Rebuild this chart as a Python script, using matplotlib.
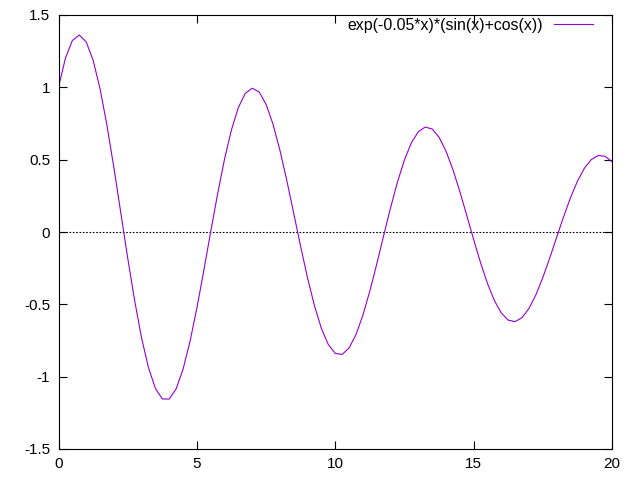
import matplotlib
matplotlib.use('Agg')
import matplotlib.pyplot as plt

# sampled curve, x step 0.25
x_values = [i * 0.25 for i in range(81)]
y_values = [
    1.0000, 1.2013, 1.3235, 1.3613, 1.3144, 1.1878, 0.9912, 0.7383, 0.4462, 0.1340,
    -0.1788, -0.4729, -0.7307, -0.9370, -1.0805, -1.1541, -1.1548, -1.0843, -0.9489, -0.7585,
    -0.5260, -0.2668, 0.0024, 0.2647, 0.5044, 0.7069, 0.8611, 0.9583, 0.9942, 0.9681,
    0.8829, 0.7456, 0.5657, 0.3554, 0.1285, -0.1008, -0.3182, -0.5106, -0.6669, -0.7782,
    -0.8389, -0.8465, -0.8017, -0.7088, -0.5744, -0.4081, -0.2207, -0.0244, 0.1686, 0.3464,
    0.4986, 0.6163, 0.6931, 0.7253, 0.7122, 0.6555, 0.5599, 0.4321, 0.2809, 0.1162,
    -0.0516, -0.2122, -0.3556, -0.4738, -0.5596, -0.6091, -0.6197, -0.5920, -0.5285, -0.4342,
    -0.3153, -0.1800, -0.0369, 0.1049, 0.2367, 0.3507, 0.4402, 0.5006, 0.5286, 0.5233,
    0.4860,
]
label = 'exp(-0.05*x)*(sin(x)+cos(x))'
x_ticks = [0, 5, 10, 15, 20]
y_ticks = [-1.5, -1, -0.5, 0, 0.5, 1, 1.5]
y_ticklabels = ['-1.5', '-1', '-0.5', '0', '0.5', '1', '1.5']

plt.rcParams['font.family'] = ['Liberation Sans', 'DejaVu Sans']
plt.rcParams['font.size'] = 11

fig = plt.figure(figsize=(6.4, 4.8), dpi=100)
ax = fig.add_axes([58.5 / 640, 1 - 449 / 480, (612 - 58.5) / 640, (449 - 15) / 480])

ax.axhline(0, color='black', lw=0.8, ls=(0, (1.5, 1.5)))
ax.plot(x_values, y_values, color='#9400d3', lw=0.8, label=label)

ax.set_xlim(0, 20)
ax.set_ylim(-1.5, 1.5)
ax.set_xticks(x_ticks)
ax.set_yticks(y_ticks)
ax.set_yticklabels(y_ticklabels)
ax.tick_params(direction='in', top=True, right=True, length=6, width=0.8,
               labelsize=11, pad=6)
for spine in ax.spines.values():
    spine.set_linewidth(0.8)

ax.legend(loc='upper right', bbox_to_anchor=(0.978, 1.008), frameon=False,
          markerfirst=False, handlelength=2.5, handletextpad=0.7,
          fontsize=11.4, borderaxespad=0.0)

fig.savefig('out.png', dpi=100)
